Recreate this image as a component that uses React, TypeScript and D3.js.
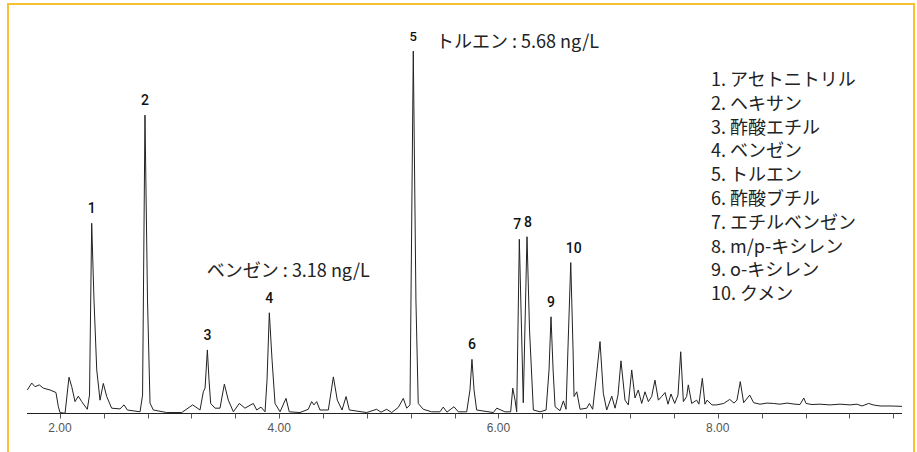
import React, { useEffect, useRef } from "react"
import * as d3 from "d3"

// chromatogram trace (time in min, relative signal)
const traceTime = [
  1.703, 1.743, 1.773, 1.812, 1.849, 1.91, 1.964, 1.986, 2.001, 2.047, 2.083, 2.108, 2.138, 2.168, 2.199, 2.25,
  2.27, 2.29, 2.311, 2.336, 2.366, 2.396, 2.427, 2.472, 2.548, 2.585, 2.615, 2.731, 2.754, 2.776, 2.799, 2.822,
  2.852, 2.974, 3.111, 3.211, 3.278, 3.308, 3.324, 3.345, 3.36, 3.375, 3.415, 3.46, 3.5, 3.536, 3.582, 3.636,
  3.688, 3.764, 3.795, 3.834, 3.871, 3.889, 3.91, 3.935, 3.962, 4.008, 4.062, 4.092, 4.19, 4.265, 4.296, 4.317,
  4.342, 4.372, 4.448, 4.494, 4.53, 4.573, 4.61, 4.64, 4.798, 4.889, 4.929, 4.98, 5.026, 5.086, 5.132, 5.163,
  5.193, 5.223, 5.247, 5.268, 5.314, 5.39, 5.466, 5.496, 5.53, 5.594, 5.633, 5.71, 5.74, 5.758, 5.777, 5.801,
  5.953, 5.984, 6.059, 6.111, 6.13, 6.151, 6.166, 6.19, 6.21, 6.226, 6.26, 6.283, 6.318, 6.379, 6.434, 6.461,
  6.479, 6.498, 6.516, 6.561, 6.592, 6.616, 6.639, 6.659, 6.68, 6.689, 6.714, 6.744, 6.805, 6.829, 6.859, 6.889,
  6.926, 6.956, 6.987, 7.033, 7.063, 7.09, 7.117, 7.154, 7.184, 7.215, 7.245, 7.275, 7.306, 7.336, 7.367, 7.397,
  7.427, 7.458, 7.488, 7.519, 7.546, 7.573, 7.607, 7.637, 7.662, 7.686, 7.716, 7.731, 7.762, 7.807, 7.828, 7.859,
  7.883, 7.902, 7.947, 7.99, 8.054, 8.109, 8.148, 8.175, 8.205, 8.236, 8.291, 8.327, 8.385, 8.449, 8.51, 8.567,
  8.631, 8.704, 8.75, 8.784, 8.805, 8.859, 8.932, 9.023, 9.115, 9.206, 9.27, 9.315, 9.376, 9.416, 9.48, 9.571,
  9.68,
]
const traceSignal = [
  6.6, 8.5, 7.5, 8.0, 7.1, 6.6, 5.9, 2.0, 0.4, 0.2, 10.1, 7.5, 3.4, 4.9, 3.4, 1.3,
  5.2, 52.4, 31.3, 12.1, 3.8, 8.4, 4.8, 1.6, 1.4, 2.5, 1.1, 0.6, 5.2, 82.1, 31.3, 3.0,
  1.1, 0.4, 0.4, 2.5, 1.1, 6.1, 7.1, 17.6, 9.3, 2.9, 1.6, 1.6, 8.2, 3.8, 0.6, 2.9,
  1.6, 2.9, 1.1, 1.9, 0.6, 9.3, 27.8, 14.8, 2.9, 0.6, 4.3, 0.6, 0.4, 1.3, 3.4, 2.5,
  3.4, 1.1, 1.1, 10.2, 3.8, 1.1, 4.8, 1.1, 0.4, 1.3, 0.5, 1.3, 0.4, 1.8, 4.3, 1.6,
  2.5, 99.7, 31.3, 2.9, 1.3, 0.6, 0.6, 1.9, 0.5, 2.0, 0.6, 0.6, 6.6, 15.0, 6.6, 1.1,
  0.4, 1.6, 0.6, 0.6, 7.1, 3.8, 0.6, 48.0, 23.1, 3.1, 48.7, 23.1, 1.1, 0.6, 1.1, 12.1,
  26.7, 12.1, 2.0, 0.9, 3.6, 1.3, 23.1, 41.6, 17.6, 4.8, 6.1, 1.3, 1.6, 2.9, 1.3, 9.3,
  19.9, 5.7, 1.1, 4.9, 1.6, 5.2, 14.6, 3.8, 2.5, 12.1, 4.4, 6.6, 2.9, 6.1, 3.4, 4.8,
  9.3, 3.8, 4.8, 5.9, 2.7, 5.5, 2.9, 5.2, 17.1, 3.4, 4.8, 8.0, 2.9, 3.8, 2.7, 9.8,
  2.7, 3.8, 2.5, 2.5, 2.9, 4.0, 3.0, 3.8, 8.9, 3.1, 5.2, 3.1, 2.7, 3.0, 2.9, 2.7,
  3.0, 2.7, 2.6, 4.4, 2.9, 2.6, 2.7, 2.5, 2.7, 2.5, 2.7, 2.2, 2.9, 2.5, 2.2, 2.2,
  2.1,
]

// numbered peaks
const peakIds = ["1", "2", "3", "4", "5", "6", "7", "8", "9", "10"]
const peakTimes = [2.29, 2.776, 3.345, 3.91, 5.223, 5.758, 6.19, 6.26, 6.479, 6.659]

const compoundNames = [
  "アセトニトリル", "ヘキサン", "酢酸エチル", "ベンゼン", "トルエン",
  "酢酸ブチル", "エチルベンゼン", "m/p-キシレン", "o-キシレン", "クメン",
]

const annotationTexts = ["ベンゼン : 3.18 ng/L", "トルエン : 5.68 ng/L"]
const annotationTimes = [3.34, 5.43]
const annotationSignals = [37.6, 100.5]

const tickValues = d3.range(2.0, 9.61, 0.4)

const W = 917
const H = 452
const jp = "'Noto Sans CJK JP', 'Noto Sans', sans-serif"
const narrow = "'Liberation Sans Narrow', 'Arial Narrow', 'Liberation Sans', sans-serif"

export default function App() {
  const ref = useRef<SVGSVGElement | null>(null)

  useEffect(() => {
    const svg = d3.select(ref.current)
    svg.selectAll("*").remove()

    const x = d3.scaleLinear().domain([1.7, 9.68]).range([27, 902])
    const y = d3.scaleLinear().domain([0, 100]).range([414, 50])

    svg.append("rect").attr("width", W).attr("height", H).attr("fill", "#fff")

    // gold frame (bottom edge is off the picture)
    svg.append("path")
      .attr("d", `M8,${H + 5}V4H914V${H + 5}`)
      .attr("fill", "none")
      .attr("stroke", "#f8c133")
      .attr("stroke-width", 2)

    // axis
    const axis = svg.append("g").attr("transform", "translate(0,413.5)")
    axis.append("line").attr("x1", 27).attr("x2", 902).attr("stroke", "#222")
    axis.selectAll("line.tick")
      .data(tickValues)
      .join("line")
      .attr("class", "tick")
      .attr("x1", d => Math.round(x(d)) + 0.5)
      .attr("x2", d => Math.round(x(d)) + 0.5)
      .attr("y1", 0)
      .attr("y2", 5)
      .attr("stroke", "#555")
    axis.selectAll("text")
      .data(tickValues.filter((_, i) => i % 5 === 0))
      .join("text")
      .attr("x", d => x(d))
      .attr("y", 18.5)
      .attr("text-anchor", "middle")
      .attr("font-family", narrow)
      .attr("font-size", 12)
      .attr("fill", "#555")
      .text(d => d.toFixed(2))

    // trace
    const pts = traceTime.map((t, i) => [t, traceSignal[i]] as [number, number])
    svg.append("path")
      .datum(pts)
      .attr("d", d3.line<[number, number]>().x(d => x(d[0])).y(d => y(d[1])))
      .attr("fill", "none")
      .attr("stroke", "#222")
      .attr("stroke-width", 1)
      .attr("stroke-linejoin", "round")

    // peak numbers above the apex
    const apex = (t: number) => {
      let best = 0
      traceTime.forEach((tt, i) => {
        if (Math.abs(tt - t) < 0.02 && traceSignal[i] > best) best = traceSignal[i]
      })
      return best
    }
    svg.selectAll("text.peak")
      .data(peakIds)
      .join("text")
      .attr("class", "peak")
      .attr("x", (d, i) => x(peakTimes[i]) + (d === "7" ? -2 : d === "8" ? 1 : d === "10" ? 3 : 0))
      .attr("y", (d, i) => y(apex(peakTimes[i])) - 10)
      .attr("text-anchor", "middle")
      .attr("font-family", "Roboto, 'Noto Sans', sans-serif")
      .attr("font-weight", 500)
      .attr("font-size", d => (d === "5" ? 13 : 14))
      .attr("fill", "#111")
      .text(d => d)

    // concentration notes
    svg.selectAll("text.note")
      .data(annotationTexts)
      .join("text")
      .attr("class", "note")
      .attr("x", (d, i) => x(annotationTimes[i]))
      .attr("y", (d, i) => y(annotationSignals[i]))
      .attr("font-family", jp)
      .attr("font-size", 18)
      .attr("fill", "#222")
      .text(d => d)

    // legend
    svg.selectAll("text.legend")
      .data(compoundNames)
      .join("text")
      .attr("class", "legend")
      .attr("x", 711)
      .attr("y", (d, i) => 86 + i * 23.8)
      .attr("font-family", jp)
      .attr("font-size", 18)
      .attr("fill", "#222")
      .text((d, i) => `${peakIds[i]}. ${d}`)
  }, [])

  return (
    <div style={{ position: "absolute", left: 0, top: 0 }}>
      <svg ref={ref} width={W} height={H} style={{ display: "block" }} />
    </div>
  )
}
